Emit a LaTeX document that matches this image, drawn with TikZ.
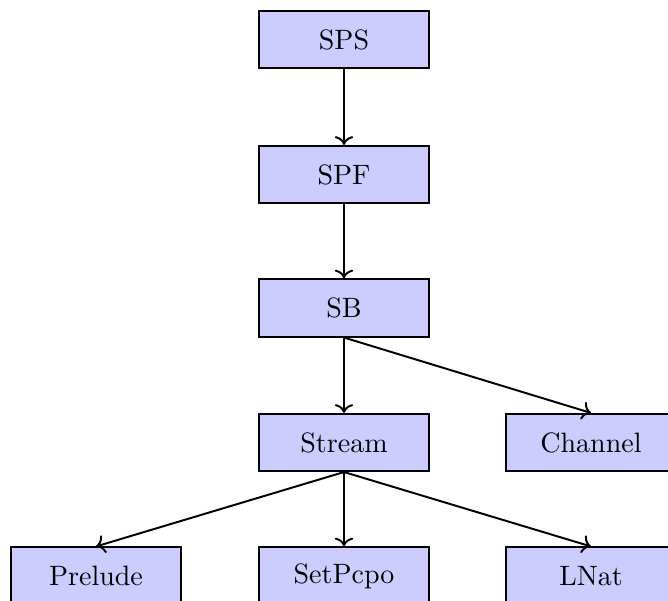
\documentclass[tikz,border=0pt]{standalone}
\usetikzlibrary{arrows.meta}
\begin{document}
\begin{tikzpicture}[x=0.357pt, y=-0.357pt,
  module/.style={draw, line width=0.7pt, fill=blue!20, rectangle,
    minimum width=60.7pt, minimum height=20.4pt, inner sep=0pt},
  dep/.style={->, line width=0.7pt}]
  \path[use as bounding box, clip] (0,0) rectangle (668,601);
  % dependency tree of the modules
  \node[module] (sps) at (344,39.5) {SPS};
  \node[module] (spf) at (344,174.5) {SPF};
  \node[module] (sb) at (344,308) {SB};
  \node[module] (stream) at (344,442.5) {Stream};
  \node[module] (channel) at (591,442.5) {Channel};
  \node[module] (prelude) at (96,576) {Prelude};
  \node[module] (setpcpo) at (344,576) {SetPcpo};
  \node[module] (lnat) at (591,576) {LNat};
  \draw[dep] (sps.south) -- (spf.north);
  \draw[dep] (spf.south) -- (sb.north);
  \draw[dep] (sb.south) -- (stream.north);
  \draw[dep] (sb.south) -- (channel.north);
  \draw[dep] (stream.south) -- (prelude.north);
  \draw[dep] (stream.south) -- (setpcpo.north);
  \draw[dep] (stream.south) -- (lnat.north);
\end{tikzpicture}
\end{document}
